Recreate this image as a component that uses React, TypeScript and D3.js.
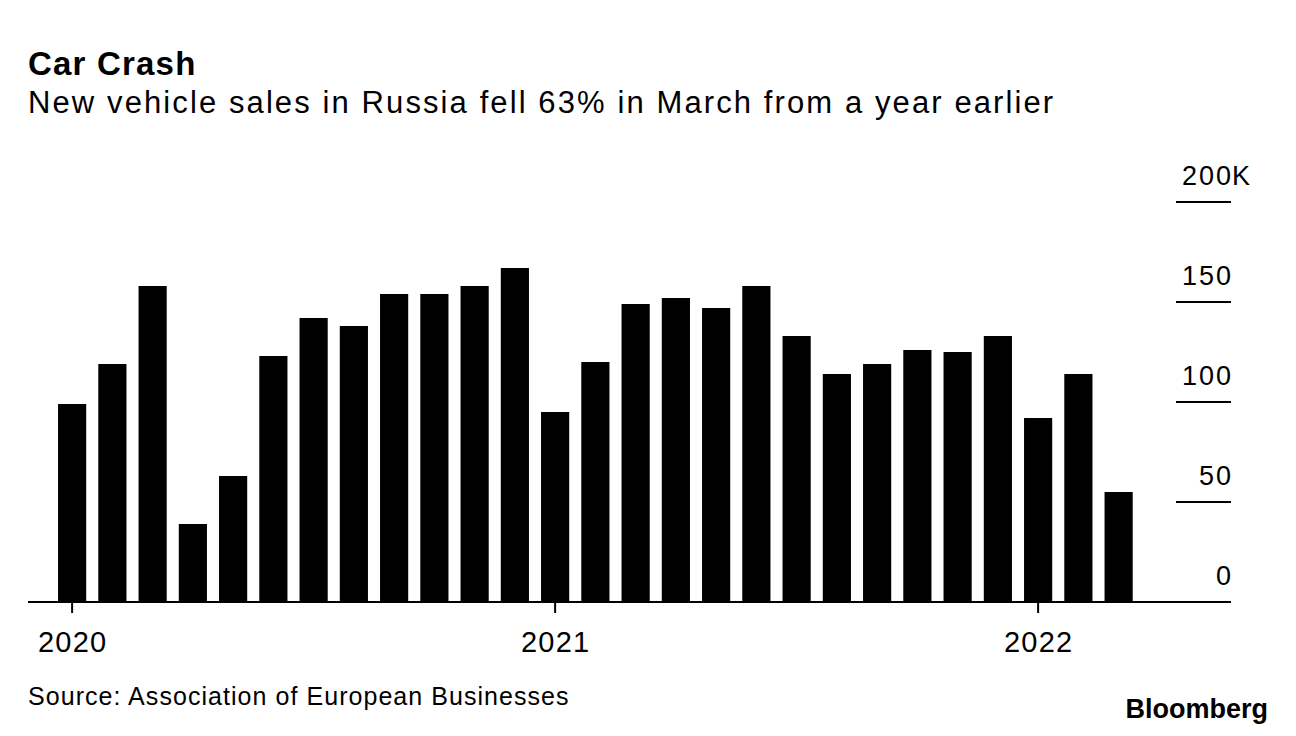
import { useEffect, useRef } from "react";
import * as d3 from "d3";

// Monthly new vehicle sales in Russia, thousands
const MONTHS = [
  "2020-01", "2020-02", "2020-03", "2020-04", "2020-05", "2020-06",
  "2020-07", "2020-08", "2020-09", "2020-10", "2020-11", "2020-12",
  "2021-01", "2021-02", "2021-03", "2021-04", "2021-05", "2021-06",
  "2021-07", "2021-08", "2021-09", "2021-10", "2021-11", "2021-12",
  "2022-01", "2022-02", "2022-03",
];
const SALES = [
  99, 119, 158, 39, 63, 123, 142, 138, 154, 154, 158, 167,
  95, 120, 149, 152, 147, 158, 133, 114, 119, 126, 125, 133,
  92, 114, 55,
];
const Y_TICKS = [0, 50, 100, 150, 200];
const YEAR_TICKS = ["2020-01", "2021-01", "2022-01"];

const WIDTH = 1296;
const HEIGHT = 736;
const FONT = "'Liberation Sans', Arial, Helvetica, sans-serif";

export default function App() {
  const svgRef = useRef<SVGSVGElement>(null);

  useEffect(() => {
    document.body.style.margin = "0";
    if (!svgRef.current) return;
    const svg = d3.select(svgRef.current);
    svg.selectAll("*").remove();

    const x = d3
      .scaleBand<string>()
      .domain(MONTHS)
      .range([52, 1138.75])
      .paddingInner(0.3)
      .paddingOuter(0.15);
    const y = d3.scaleLinear().domain([0, 200]).range([602, 202]);

    // Title + subtitle
    svg
      .append("text")
      .attr("x", 28)
      .attr("y", 75)
      .attr("font-family", FONT)
      .attr("font-weight", 700)
      .attr("font-size", 33)
      .attr("letter-spacing", 1.2)
      .text("Car Crash");
    svg
      .append("text")
      .attr("x", 28)
      .attr("y", 113)
      .attr("font-family", FONT)
      .attr("font-size", 31)
      .attr("letter-spacing", 2.1)
      .text("New vehicle sales in Russia fell 63% in March from a year earlier");

    // Bars
    svg
      .append("g")
      .selectAll("rect")
      .data(MONTHS)
      .join("rect")
      .attr("x", (d) => x(d)!)
      .attr("width", x.bandwidth())
      .attr("y", (_, i) => y(SALES[i]))
      .attr("height", (_, i) => y(0) - y(SALES[i]))
      .attr("fill", "#000");

    // Right-side y ticks
    const yAxis = svg.append("g");
    yAxis
      .selectAll("line")
      .data(Y_TICKS.filter((t) => t > 0))
      .join("line")
      .attr("x1", 1176)
      .attr("x2", 1231)
      .attr("y1", (d) => y(d))
      .attr("y2", (d) => y(d))
      .attr("stroke", "#000")
      .attr("stroke-width", 2);
    const ls = 2;
    yAxis
      .selectAll("text.num")
      .data(Y_TICKS)
      .join("text")
      .attr("class", "num")
      .attr("x", 1231 + ls)
      .attr("y", (d) => y(d) - 17)
      .attr("text-anchor", "end")
      .attr("font-family", FONT)
      .attr("font-size", 27)
      .attr("letter-spacing", ls)
      .text((d) => String(d));
    yAxis
      .append("text")
      .attr("x", 1232)
      .attr("y", y(200) - 17)
      .attr("font-family", FONT)
      .attr("font-size", 27)
      .text("K");

    // Baseline
    svg
      .append("line")
      .attr("x1", 28)
      .attr("x2", 1231)
      .attr("y1", y(0))
      .attr("y2", y(0))
      .attr("stroke", "#000")
      .attr("stroke-width", 2);

    // Year ticks
    const xAxis = svg.append("g");
    xAxis
      .selectAll("line")
      .data(YEAR_TICKS)
      .join("line")
      .attr("x1", (d) => x(d)! + x.bandwidth() / 2)
      .attr("x2", (d) => x(d)! + x.bandwidth() / 2)
      .attr("y1", y(0))
      .attr("y2", y(0) + 11)
      .attr("stroke", "#000")
      .attr("stroke-width", 2);
    xAxis
      .selectAll("text")
      .data(YEAR_TICKS)
      .join("text")
      .attr("x", (d) => x(d)! + x.bandwidth() / 2 + 0.6)
      .attr("y", 652)
      .attr("text-anchor", "middle")
      .attr("font-family", FONT)
      .attr("font-size", 29)
      .attr("letter-spacing", 1.25)
      .text((d) => d.slice(0, 4));

    // Footer
    svg
      .append("text")
      .attr("x", 28)
      .attr("y", 705)
      .attr("font-family", FONT)
      .attr("font-size", 25)
      .attr("letter-spacing", 1.05)
      .text("Source: Association of European Businesses");
    svg
      .append("text")
      .attr("x", 1268)
      .attr("y", 718)
      .attr("text-anchor", "end")
      .attr("font-family", FONT)
      .attr("font-weight", 700)
      .attr("font-size", 27)
      .attr("letter-spacing", 0)
      .text("Bloomberg");
  }, []);

  return (
    <svg
      ref={svgRef}
      width={WIDTH}
      height={HEIGHT}
      viewBox={`0 0 ${WIDTH} ${HEIGHT}`}
      style={{ display: "block", background: "#fff" }}
    />
  );
}
